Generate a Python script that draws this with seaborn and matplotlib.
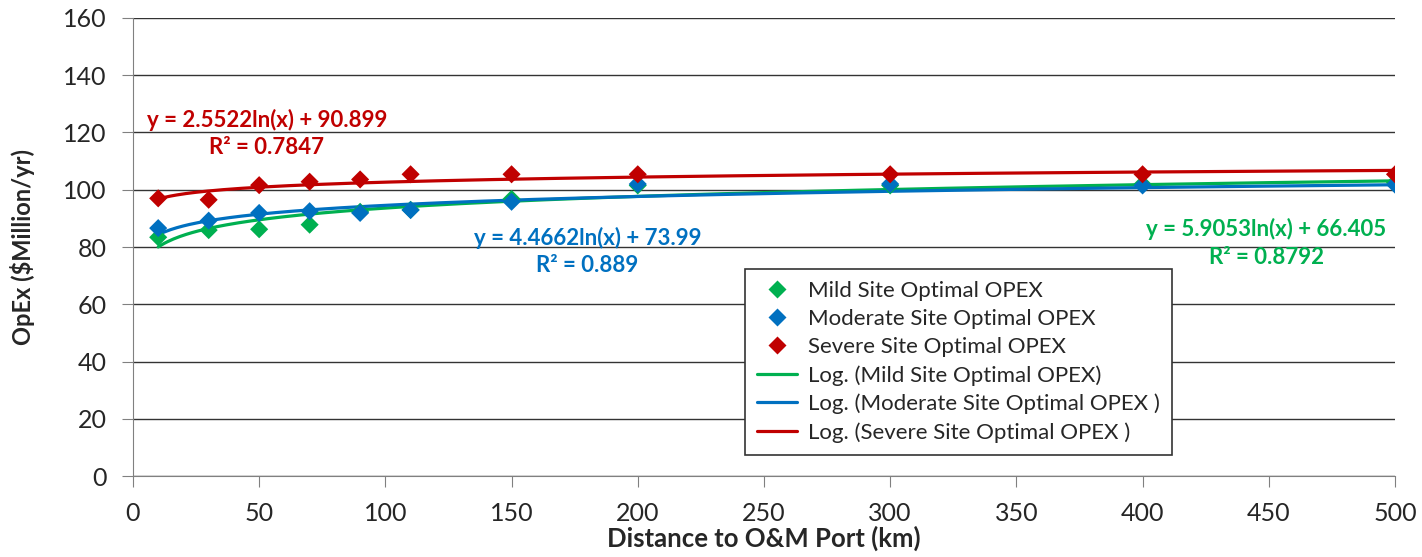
import numpy as np
import pandas as pd
import matplotlib
matplotlib.use("Agg")
import matplotlib.pyplot as plt
import seaborn as sns

# Distances (km) and optimal OPEX ($M/yr)
distance = [10, 30, 50, 70, 90, 110, 150, 200, 300, 400, 500]
mild = [83.4, 85.9, 86.2, 87.8, 92.3, 93.0, 96.8, 101.5, 101.5, 102.0, 102.5]
moderate = [86.6, 89.2, 91.9, 92.5, 91.9, 92.9, 95.8, 102.0, 102.0, 101.5, 101.8]
severe = [97.0, 96.5, 101.6, 102.8, 103.6, 105.4, 105.4, 105.4, 105.4, 105.4, 105.4]

sites = ["Mild Site Optimal OPEX", "Moderate Site Optimal OPEX", "Severe Site Optimal OPEX"]
fit_labels = ["Log. (Mild Site Optimal OPEX)", "Log. (Moderate Site Optimal OPEX )",
              "Log. (Severe Site Optimal OPEX )"]
slopes = [5.9053, 4.4662, 2.5522]
intercepts = [66.405, 73.99, 90.899]
r2 = [0.8792, 0.889, 0.7847]
colors = ["#00B050", "#0070C0", "#C00000"]

sns.set_style("white")
plt.rcParams["font.family"] = ["Lato", "DejaVu Sans"]

df = pd.DataFrame({
    "distance": distance * 3,
    "opex": mild + moderate + severe,
    "site": [s for s in sites for _ in distance],
})

xfit = np.linspace(10, 500, 400)
fits = pd.concat([
    pd.DataFrame({"distance": xfit, "opex": a * np.log(xfit) + b, "fit": lab})
    for a, b, lab in zip(slopes, intercepts, fit_labels)
])

fig = plt.figure(figsize=(14.22, 5.57), dpi=100)
ax = fig.add_axes([0.0935, 0.1454, 0.8875, 0.8223])

sns.lineplot(data=fits, x="distance", y="opex", hue="fit", palette=colors,
             linewidth=2.3, ax=ax, zorder=2)
sns.scatterplot(data=df, x="distance", y="opex", hue="site", palette=colors,
                marker="D", s=85, edgecolor="none", ax=ax, zorder=3)

ax.set_xlim(0, 500)
ax.set_ylim(0, 160)
ax.set_xticks(range(0, 501, 50))
ax.set_yticks(range(0, 161, 20))
ax.yaxis.grid(True, color="#333333", linewidth=1)
ax.set_axisbelow(True)
for side in ["top", "right"]:
    ax.spines[side].set_visible(False)
for side in ["left", "bottom"]:
    ax.spines[side].set_color("#808080")
ax.tick_params(axis="both", labelsize=18, length=8, color="#808080", direction="out",
               left=True, bottom=True)
ax.tick_params(axis="y", pad=11)
ax.tick_params(axis="x", pad=11)
ax.set_xlabel("Distance to O&M Port (km)", fontsize=18.5, fontweight="bold", labelpad=0)
ax.set_ylabel("OpEx ($Million/yr)", fontsize=17, fontweight="bold", labelpad=20)

# trendline equations
eq_pos = [(449, 86.3, 76.2), (180, 83.1, 73.4), (53, 124.4, 114.6)]
for a, b, r, c, (xp, y1, y2) in zip(slopes, intercepts, r2, colors, eq_pos):
    ax.text(xp, y1, f"y = {a:g}ln(x) + {b:g}", color=c, fontsize=16,
            fontweight="bold", ha="center", va="center")
    ax.text(xp, y2, f"R² = {r:g}", color=c, fontsize=16,
            fontweight="bold", ha="center", va="center")

handles, labels = ax.get_legend_handles_labels()
order = [labels.index(l) for l in sites + fit_labels]
leg = ax.legend([handles[i] for i in order], [labels[i] for i in order],
                loc="lower left", bbox_to_anchor=(0.485, 0.046), fontsize=16,
                frameon=True, fancybox=False, edgecolor="#333333", framealpha=1,
                handlelength=1.8, handletextpad=0.5, labelspacing=0.36,
                borderpad=0.55, borderaxespad=0)
leg.get_frame().set_linewidth(1.2)

fig.savefig("out.png", dpi=100)
